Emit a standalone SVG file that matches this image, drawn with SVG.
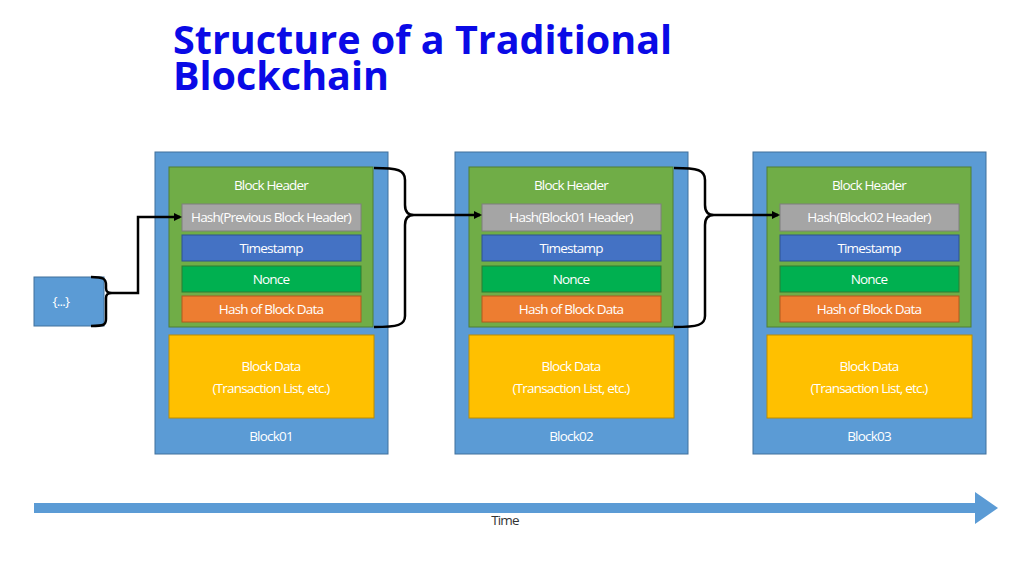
<svg xmlns="http://www.w3.org/2000/svg" width="1024" height="575" viewBox="0 0 1024 575">
<defs>
<style>
.t{font-family:"Open Sans","Liberation Sans",sans-serif;font-size:13.5px;fill:#fff;text-anchor:middle;letter-spacing:-0.8px}
.outer{fill:#5b9bd5;stroke:#41719c;stroke-width:1}
.hdr{fill:#70ad47;stroke:#507e32}
.hash{fill:#a5a5a5;stroke:#7f7f7f}
.ts{fill:#4472c4;stroke:#2f528f}
.nonce{fill:#00b050;stroke:#2e7d32}
.hd{fill:#ed7d31;stroke:#ae5a21}
.data{fill:#ffc000;stroke:#bc8c00}
.c{fill:none;stroke:#000;stroke-width:2.5}
.title{font-family:"Open Sans","Liberation Sans",sans-serif;font-weight:bold;font-size:39.5px;fill:#0a0ae6}
</style>
<marker id="ah" markerWidth="8" markerHeight="8" refX="6" refY="4" orient="auto" markerUnits="userSpaceOnUse"><path d="M0,0 L8,4 L0,8 z" fill="#000"/></marker>
</defs>
<rect width="1024" height="575" fill="#fff"/>
<g id="title">
<text x="173" y="54" class="title">Structure of a Traditional</text>
<text x="173" y="90" class="title">Blockchain</text>
</g>

<g id="genesis"><rect x="34" y="277" width="70" height="49" class="outer"/><text x="61" y="306" class="t">{...}</text></g>

<g id="block01" transform="translate(0,0)">
<rect x="155" y="152" width="233" height="302" class="outer"/>
<rect x="169" y="167" width="204" height="160" class="hdr"/>
<text x="271" y="190" class="t">Block Header</text>
<rect x="182" y="204" width="179" height="27" class="hash"/><text x="271" y="222" class="t">Hash(Previous Block Header)</text>
<rect x="182" y="235" width="179" height="26" class="ts"/><text x="271" y="253" class="t">Timestamp</text>
<rect x="182" y="266" width="179" height="26" class="nonce"/><text x="271" y="284" class="t">Nonce</text>
<rect x="182" y="296" width="179" height="26" class="hd"/><text x="271" y="314" class="t">Hash of Block Data</text>
<rect x="169" y="335" width="205" height="83" class="data"/>
<text x="271" y="371" class="t">Block Data</text><text x="271" y="393" class="t">(Transaction List, etc.)</text>
<text x="271" y="441" class="t">Block01</text>
</g>
<g id="block02" transform="translate(300,0)">
<rect x="155" y="152" width="233" height="302" class="outer"/>
<rect x="169" y="167" width="204" height="160" class="hdr"/>
<text x="271" y="190" class="t">Block Header</text>
<rect x="182" y="204" width="179" height="27" class="hash"/><text x="271" y="222" class="t">Hash(Block01 Header)</text>
<rect x="182" y="235" width="179" height="26" class="ts"/><text x="271" y="253" class="t">Timestamp</text>
<rect x="182" y="266" width="179" height="26" class="nonce"/><text x="271" y="284" class="t">Nonce</text>
<rect x="182" y="296" width="179" height="26" class="hd"/><text x="271" y="314" class="t">Hash of Block Data</text>
<rect x="169" y="335" width="205" height="83" class="data"/>
<text x="271" y="371" class="t">Block Data</text><text x="271" y="393" class="t">(Transaction List, etc.)</text>
<text x="271" y="441" class="t">Block02</text>
</g>
<g id="block03" transform="translate(598,0)">
<rect x="155" y="152" width="233" height="302" class="outer"/>
<rect x="169" y="167" width="204" height="160" class="hdr"/>
<text x="271" y="190" class="t">Block Header</text>
<rect x="182" y="204" width="179" height="27" class="hash"/><text x="271" y="222" class="t">Hash(Block02 Header)</text>
<rect x="182" y="235" width="179" height="26" class="ts"/><text x="271" y="253" class="t">Timestamp</text>
<rect x="182" y="266" width="179" height="26" class="nonce"/><text x="271" y="284" class="t">Nonce</text>
<rect x="182" y="296" width="179" height="26" class="hd"/><text x="271" y="314" class="t">Hash of Block Data</text>
<rect x="169" y="335" width="205" height="83" class="data"/>
<text x="271" y="371" class="t">Block Data</text><text x="271" y="393" class="t">(Transaction List, etc.)</text>
<text x="271" y="441" class="t">Block03</text>
</g>

<g id="connectors">
<path class="c" d="M91,277 C104,277 106,279 106,285 L106,288 C106,292 108,293 112,293 C108,293 106,294 106,298 L106,319 C106,325 104,326 91,326"/>
<path class="c" d="M112,293 L138,293 L138,217 L180,217" marker-end="url(#ah)"/>
<path class="c" d="M374,168 C398,168 405,170 405,180 L405,205 C405,212 408,215 414,215 C408,215 405,218 405,225 L405,316 C405,325 398,327 374,327"/>
<path class="c" d="M414,215 L480,215" marker-end="url(#ah)"/>
<path class="c" d="M674,168 C698,168 705,170 705,180 L705,205 C705,212 708,215 714,215 C708,215 705,218 705,225 L705,316 C705,325 698,327 674,327"/>
<path class="c" d="M714,215 L778,215" marker-end="url(#ah)"/>
</g>
<g id="timeline">
<path d="M34,503 L975,503 L975,492 L998,508 L975,524 L975,513 L34,513 z" fill="#5b9bd5"/>
<text x="505" y="525" font-family="Open Sans,Liberation Sans,sans-serif" font-size="13.5" fill="#333" text-anchor="middle" letter-spacing="-0.8">Time</text>
</g>
</svg>
